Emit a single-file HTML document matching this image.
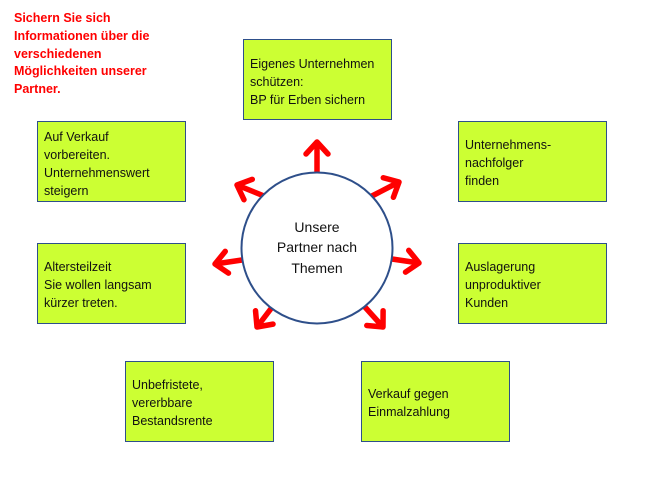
<!DOCTYPE html>
<html><head><meta charset="utf-8"><style>
body{margin:0;width:650px;height:487px;background:#fff;position:relative;overflow:hidden;font-family:"Liberation Sans",sans-serif}
.b{position:absolute;width:147px;height:79px;background:#ccff33;border:1.5px solid #2e4f8a;box-sizing:content-box;font-size:12.5px;line-height:18px;color:#111;padding:0;}
.b div{position:absolute;left:6px;}
.t{position:absolute;left:14px;top:10px;color:#ff0000;font-weight:bold;font-size:12.5px;line-height:17.8px}
</style></head><body>
<div class="t">Sichern Sie sich<br>Informationen über die<br>verschiedenen<br>Möglichkeiten unserer<br>Partner.</div>
<svg width="650" height="487" style="position:absolute;left:0;top:0">
<defs><marker id="m" markerUnits="userSpaceOnUse" markerWidth="30" markerHeight="30" refX="14" refY="12" orient="auto" overflow="visible">
<path d="M2,1 L14,12 L2,23" fill="none" stroke="#ff0000" stroke-width="5.5" stroke-linecap="round" stroke-linejoin="round"/></marker></defs>
<g stroke="#ff0000" stroke-width="5.5" marker-end="url(#m)">
<line x1="317" y1="172" x2="317" y2="142"/>
<line x1="264" y1="196" x2="237" y2="185"/>
<line x1="372" y1="196" x2="399" y2="182"/>
<line x1="392" y1="259" x2="419" y2="263"/>
<line x1="242" y1="260" x2="215" y2="264"/>
<line x1="273" y1="306" x2="257" y2="327"/>
<line x1="364" y1="306" x2="383" y2="327"/>
</g>
<circle cx="317" cy="248" r="75.5" fill="#fff" stroke="#2e4f8a" stroke-width="2"/>
<text x="317" y="232" text-anchor="middle" font-family="Liberation Sans, sans-serif" font-size="14" fill="#111">Unsere</text>
<text x="317" y="252" text-anchor="middle" font-family="Liberation Sans, sans-serif" font-size="14" fill="#111">Partner nach</text>
<text x="317" y="273" text-anchor="middle" font-family="Liberation Sans, sans-serif" font-size="14" fill="#111">Themen</text>
</svg>
<div class="b" style="left:243px;top:39px"><div style="top:15px">Eigenes Unternehmen<br>schützen:<br>BP für Erben sichern</div></div>
<div class="b" style="left:37px;top:121px"><div style="top:6px">Auf Verkauf<br>vorbereiten.<br>Unternehmenswert<br>steigern</div></div>
<div class="b" style="left:458px;top:121px"><div style="top:14px">Unternehmens-<br>nachfolger<br>finden</div></div>
<div class="b" style="left:37px;top:243px"><div style="top:14px">Altersteilzeit<br>Sie wollen langsam<br>kürzer treten.</div></div>
<div class="b" style="left:458px;top:243px"><div style="top:14px">Auslagerung<br>unproduktiver<br>Kunden</div></div>
<div class="b" style="left:125px;top:361px"><div style="top:14px">Unbefristete,<br>vererbbare<br>Bestandsrente</div></div>
<div class="b" style="left:361px;top:361px"><div style="top:23px">Verkauf gegen<br>Einmalzahlung</div></div>
</body></html>
